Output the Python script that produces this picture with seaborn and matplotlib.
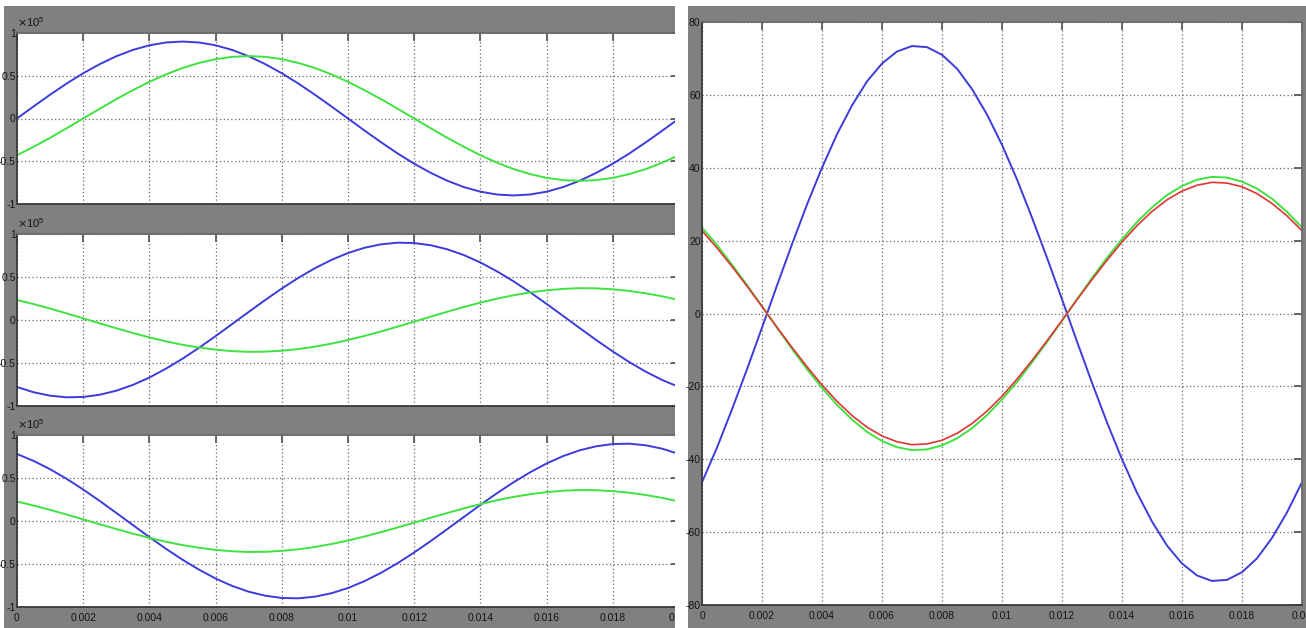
import numpy as np
import matplotlib
matplotlib.use("Agg")
import matplotlib.pyplot as plt
from matplotlib.patches import Rectangle
from matplotlib import font_manager as fm
import seaborn as sns

# ---------------------------------------------------------------- data
# one 50 Hz period, sampled every 0.5 ms
t = np.linspace(0.0, 0.02, 41)

x_ticks = [0.0, 0.002, 0.004, 0.006, 0.008, 0.01, 0.012, 0.014, 0.016, 0.018, 0.02]
x_tick_labels = ["0", "0.002", "0.004", "0.006", "0.008", "0.01",
                 "0.012", "0.014", "0.016", "0.018", "0.02"]

# left column (units of 1e5)
left_y_ticks = [-1.0, -0.5, 0.0, 0.5, 1.0]
left_y_tick_labels = ["-1", "-0.5", "0", "0.5", "1"]

phase_a_blue = [0.000, 0.141, 0.278, 0.409, 0.529, 0.636, 0.728, 0.802, 0.856, 0.889,
                0.900, 0.889, 0.856, 0.802, 0.728, 0.636, 0.529, 0.409, 0.278, 0.141,
                0.000, -0.141, -0.278, -0.409, -0.529, -0.636, -0.728, -0.802, -0.856, -0.889,
                -0.900, -0.889, -0.856, -0.802, -0.728, -0.636, -0.529, -0.409, -0.278, -0.141,
                0.000]
phase_a_green = [-0.429, -0.331, -0.226, -0.114, 0.000, 0.114, 0.226, 0.331, 0.429, 0.516,
                 0.591, 0.650, 0.694, 0.721, 0.730, 0.721, 0.694, 0.650, 0.591, 0.516,
                 0.429, 0.331, 0.226, 0.114, 0.000, -0.114, -0.226, -0.331, -0.429, -0.516,
                 -0.591, -0.650, -0.694, -0.721, -0.730, -0.721, -0.694, -0.650, -0.591, -0.516,
                 -0.429]

phase_b_blue = [-0.779, -0.840, -0.880, -0.899, -0.895, -0.869, -0.822, -0.755, -0.669, -0.566,
                -0.450, -0.323, -0.187, -0.047, 0.094, 0.233, 0.366, 0.490, 0.602, 0.699,
                0.779, 0.840, 0.880, 0.899, 0.895, 0.869, 0.822, 0.755, 0.669, 0.566,
                0.450, 0.323, 0.187, 0.047, -0.094, -0.233, -0.366, -0.490, -0.602, -0.699,
                -0.779]
phase_b_green = [0.233, 0.185, 0.133, 0.077, 0.019, -0.039, -0.096, -0.151, -0.202, -0.248,
                 -0.288, -0.320, -0.345, -0.362, -0.370, -0.368, -0.357, -0.338, -0.310, -0.275,
                 -0.233, -0.185, -0.133, -0.077, -0.019, 0.039, 0.096, 0.151, 0.202, 0.248,
                 0.288, 0.320, 0.345, 0.362, 0.370, 0.368, 0.357, 0.338, 0.310, 0.275,
                 0.233]

phase_c_blue = [0.779, 0.699, 0.602, 0.490, 0.366, 0.233, 0.094, -0.047, -0.187, -0.323,
                -0.450, -0.566, -0.669, -0.755, -0.822, -0.869, -0.895, -0.899, -0.880, -0.840,
                -0.779, -0.699, -0.602, -0.490, -0.366, -0.233, -0.094, 0.047, 0.187, 0.323,
                0.450, 0.566, 0.669, 0.755, 0.822, 0.869, 0.895, 0.899, 0.880, 0.840,
                0.779]
phase_c_green = [0.227, 0.180, 0.129, 0.075, 0.019, -0.038, -0.093, -0.147, -0.196, -0.241,
                 -0.280, -0.311, -0.336, -0.352, -0.360, -0.358, -0.347, -0.329, -0.302, -0.268,
                 -0.227, -0.180, -0.129, -0.075, -0.019, 0.038, 0.093, 0.147, 0.196, 0.241,
                 0.280, 0.311, 0.336, 0.352, 0.360, 0.358, 0.347, 0.329, 0.302, 0.268,
                 0.227]

# right panel
right_y_ticks = [-80, -60, -40, -20, 0, 20, 40, 60, 80]
right_y_tick_labels = ["-80", "-60", "-40", "-20", "0", "20", "40", "60", "80"]

right_blue = [-46.3, -36.8, -26.3, -15.3, -3.9, 7.7, 19.0, 29.9, 40.0, 49.2,
              57.1, 63.7, 68.6, 71.9, 73.4, 73.1, 71.0, 67.2, 61.6, 54.6,
              46.3, 36.8, 26.3, 15.3, 3.9, -7.7, -19.0, -29.9, -40.0, -49.2,
              -57.1, -63.7, -68.6, -71.9, -73.4, -73.1, -71.0, -67.2, -61.6, -54.6,
              -46.3]
right_green = [23.6, 18.8, 13.4, 7.8, 2.0, -3.9, -9.7, -15.3, -20.4, -25.1,
               -29.1, -32.5, -35.0, -36.7, -37.5, -37.3, -36.2, -34.3, -31.5, -27.9,
               -23.6, -18.8, -13.4, -7.8, -2.0, 3.9, 9.7, 15.3, 20.4, 25.1,
               29.1, 32.5, 35.0, 36.7, 37.5, 37.3, 36.2, 34.3, 31.5, 27.9,
               23.6]
right_red = [22.7, 18.0, 12.9, 7.5, 1.9, -3.8, -9.3, -14.6, -19.6, -24.1,
             -28.0, -31.2, -33.6, -35.2, -36.0, -35.8, -34.8, -32.9, -30.2, -26.8,
             -22.7, -18.0, -12.9, -7.5, -1.9, 3.8, 9.3, 14.6, 19.6, 24.1,
             28.0, 31.2, 33.6, 35.2, 36.0, 35.8, 34.8, 32.9, 30.2, 26.8,
             22.7]

# ---------------------------------------------------------------- style
sns.set_theme(style="white")
plt.rcParams["font.family"] = ["Liberation Sans", "DejaVu Sans"]

TICK_FONT = fm.FontProperties(family=["Liberation Sans", "DejaVu Sans"], size=7.5)

BLUE = "#3c3cdc"
GREEN = "#3fe23f"
RED = "#e23434"
GRAY = "#808080"

W, H = 1306, 628
fig = plt.figure(figsize=(W / 100, H / 100), dpi=100, facecolor="white")


def box(x0, y0, x1, y1):
    """pixel box (top-left origin) -> figure fraction rect"""
    return [x0 / W, 1 - y1 / H, (x1 - x0) / W, (y1 - y0) / H]


# scope window backgrounds
fig.add_artist(Rectangle((4 / W, 0), (675 - 4) / W, (H - 6) / H,
                         transform=fig.transFigure, facecolor=GRAY,
                         edgecolor="none", zorder=-10))
fig.add_artist(Rectangle((688 / W, 0), (W - 688) / W, (H - 6) / H,
                         transform=fig.transFigure, facecolor=GRAY,
                         edgecolor="none", zorder=-10))


def style_axes(ax, yticks, ylabels, show_xlabels):
    ax.set_facecolor("white")
    ax.set_xlim(0, 0.02)
    ax.set_ylim(yticks[0], yticks[-1])
    ax.set_xticks(x_ticks)
    ax.set_xticklabels(x_tick_labels if show_xlabels else [], fontproperties=TICK_FONT)
    ax.set_yticks(yticks)
    ax.set_yticklabels(ylabels, fontproperties=TICK_FONT)
    ax.grid(True, color="#6a6a6a", linestyle=(0, (1, 2)), linewidth=0.9)
    ax.set_axisbelow(True)
    ax.tick_params(direction="in", length=6, width=1.3, color="#5a5a5a",
                   top=True, right=True, labelcolor="#141414")
    ax.tick_params(axis="x", pad=4)
    ax.tick_params(axis="y", pad=1)
    for side, sp in ax.spines.items():
        sp.set_visible(True)
        sp.set_color("#3a3a3a" if side in ("left", "bottom") else "#6a6a6a")
        sp.set_linewidth(1.3)
    ax.set_xlabel("")
    ax.set_ylabel("")


left_boxes = [(17, 33, 679, 204), (17, 234, 679, 406), (17, 435, 679, 607)]
left_series = [(phase_a_blue, phase_a_green),
               (phase_b_blue, phase_b_green),
               (phase_c_blue, phase_c_green)]

for i, (bx, (yb, yg)) in enumerate(zip(left_boxes, left_series)):
    ax = fig.add_axes(box(*bx), zorder=0)
    sns.lineplot(x=t, y=yb, ax=ax, color=BLUE, linewidth=1.4, legend=False)
    sns.lineplot(x=t, y=yg, ax=ax, color=GREEN, linewidth=1.4, legend=False)
    style_axes(ax, left_y_ticks, left_y_tick_labels, show_xlabels=(i == 2))
    ax.annotate(r"$\times\mathregular{10^{5}}$", xy=(0, 1), xycoords="axes fraction",
                xytext=(0, 3), textcoords="offset points", ha="left", va="bottom",
                fontsize=8, color="#141414")

# gap between the two scope windows (hides the clipped right end of the left column)
fig.add_artist(Rectangle((675 / W, 0), 13 / W, 1, transform=fig.transFigure,
                         facecolor="white", edgecolor="none", zorder=1))

axr = fig.add_axes(box(702, 22, 1302, 605), zorder=2)
sns.lineplot(x=t, y=right_blue, ax=axr, color=BLUE, linewidth=1.4, legend=False)
sns.lineplot(x=t, y=right_green, ax=axr, color=GREEN, linewidth=1.4, legend=False)
sns.lineplot(x=t, y=right_red, ax=axr, color=RED, linewidth=1.2, legend=False)
style_axes(axr, right_y_ticks, right_y_tick_labels, show_xlabels=True)

fig.savefig("out.png", dpi=100, facecolor="white")
